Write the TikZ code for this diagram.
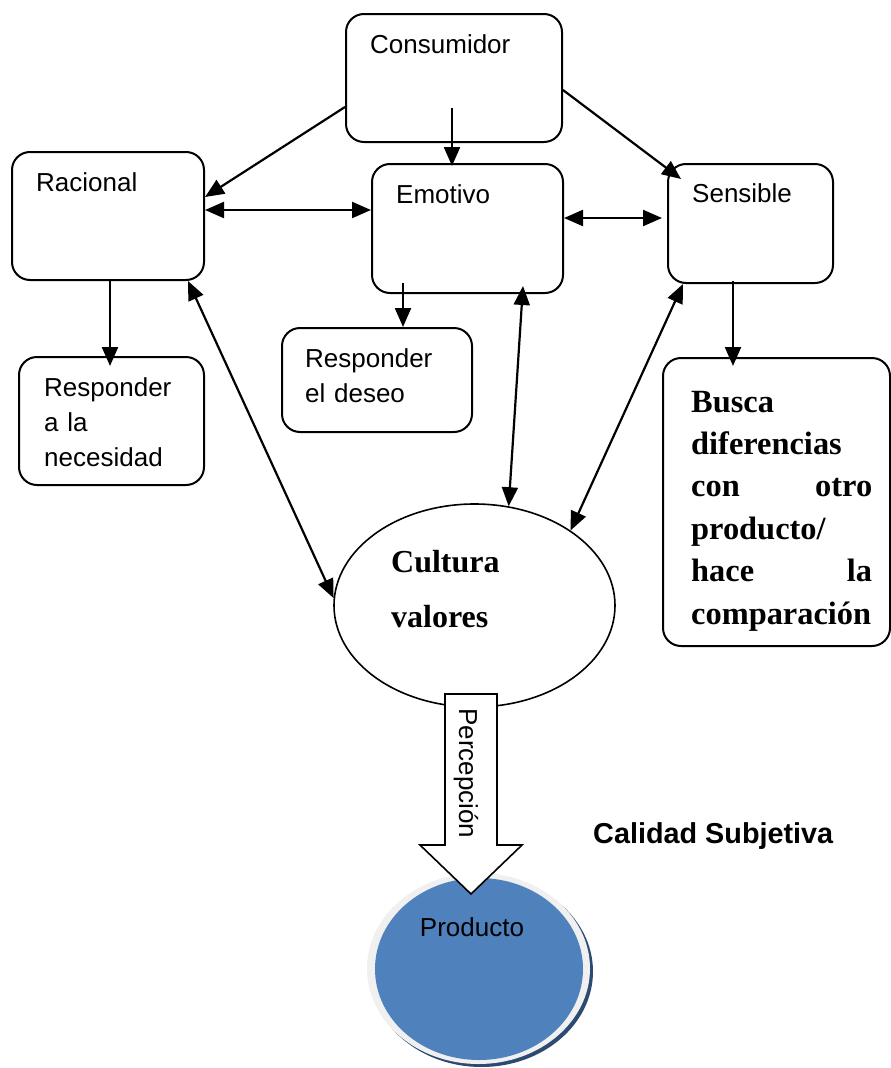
\documentclass[tikz,border=0pt]{standalone}
\usepackage{fontspec}
\setmainfont{Liberation Serif}
\setsansfont{Liberation Sans}
\usetikzlibrary{arrows.meta,shapes.geometric,calc}
\definecolor{azulprod}{HTML}{4F81BD}
\definecolor{sombraprod}{HTML}{2C4A72}
\definecolor{anillo}{HTML}{F0F0F0}
\newcommand\estira{\hskip 0pt plus 1fill\relax}
\tikzset{
  caja/.style={draw, line width=2pt, rounded corners=18pt, inner sep=0pt},
  txt/.style={font=\sffamily\fontsize{26}{35}\selectfont, inner sep=0pt, anchor=base west, align=left},
  negrita/.style={font=\bfseries\fontsize{32.4}{42.4}\selectfont, inner sep=0pt, anchor=base west, align=left},
  flecha/.style={line width=2.2pt, -{Triangle[length=19pt,width=16pt]}},
  doble/.style={line width=2.2pt, {Triangle[length=19pt,width=16pt]}-{Triangle[length=19pt,width=16pt]}},
}
\begin{document}
\begin{tikzpicture}[x=1pt, y=-1pt, line join=round]
\useasboundingbox (0,0) rectangle (891,1068);

% cajas
\node[caja, minimum width=216pt, minimum height=128pt] (consumidor) at (454,78) {};
\node[caja, minimum width=192pt, minimum height=128pt] (racional) at (108,216) {};
\node[caja, minimum width=191pt, minimum height=129pt] (emotivo) at (467.5,228.5) {};
\node[caja, minimum width=165pt, minimum height=119pt] (sensible) at (750.5,223.5) {};
\node[caja, minimum width=185pt, minimum height=128pt] (necesidad) at (111.5,421) {};
\node[caja, minimum width=190pt, minimum height=104pt] (deseo) at (377,380) {};
\node[caja, minimum width=227pt, minimum height=288pt] (busca) at (776.5,502) {};
\node[draw, ellipse, line width=1.6pt, minimum width=281pt, minimum height=203pt] (cultura) at (474.5,605.5) {};

\foreach \n/\dx/\dy/\t in {consumidor/25/40/Consumidor, racional/25/40/Racional,
  emotivo/25/40/Emotivo, sensible/25/39/Sensible,
  necesidad/26/40/{Responder\\a la\\necesidad}, deseo/24/40/{Responder\\el deseo}}
  \node[txt, text width=160pt] (t\n) at ([shift={(\dx,\dy)}]\n.north west) {\t};

\node[negrita, text width=181pt] (tbusca) at ([shift={(29,55)}]busca.north west)
  {Busca\\ diferencias\\ con\estira otro\\ producto/\\ hace\estira la\\ comparación};
\node[negrita, text width=150pt, font=\bfseries\fontsize{32}{55}\selectfont] (tcultura) at ([shift={(-83.5,-33.5)}]cultura.center)
  {Cultura\\ valores};

% flechas
\draw[flecha] (consumidor.west |- 0,107) -- (racional.east |- 0,197);
\draw[flecha] ($(consumidor.south -| 452,0)+(0,-35)$) -- ($(emotivo.north -| 452,0)+(0,3)$);
\draw[flecha] (consumidor.east |- 0,90) -- ($(sensible.north west)+(14,16)$);
\draw[doble] (racional.east |- 0,210) -- (emotivo.west |- 0,210);
\draw[doble] (emotivo.east |- 0,218) -- ($(sensible.west |- 0,218)+(-5,0)$);
\draw[flecha] (racional.south -| 110,0) -- ($(necesidad.north -| 110,0)+(0,10)$);
\draw[flecha] ($(emotivo.south -| 403,0)+(0,-11)$) -- (deseo.north -| 403,0);
\draw[flecha] ($(sensible.south -| 733,0)+(0,-3)$) -- ($(busca.north -| 733,0)+(0,9)$);
\draw[doble] (racional.south -| 188,0) -- (cultura.177);
\draw[doble] ($(emotivo.south -| 523,0)+(0,-8)$) -- (cultura.71);
\draw[doble] (sensible.south -| 683,0) -- (cultura.38);

% producto
\fill[sombraprod] (481.5,971.5) ellipse [x radius=111.5pt, y radius=95.5pt];
\fill[anillo] (478.5,968.5) ellipse [x radius=111.5pt, y radius=95.5pt];
\node[ellipse, fill=azulprod, minimum width=208pt, minimum height=182pt, inner sep=0pt] (producto) at (479,969) {};
\node[txt, anchor=base] (tproducto) at ([shift={(-7,-33)}]producto.center) {Producto};

% percepcion
\draw[line width=1.6pt, fill=white, line join=miter]
  (445,694) -- (497,694) -- (497,845) -- (522,845) -- (471,894) -- (420,845) -- (445,845) -- cycle;
\node[txt, rotate=-90] (percepcion) at (459,708) {Percepción};

\node[txt, font=\sffamily\bfseries\fontsize{28.8}{34}\selectfont] (calidad) at (593,843) {Calidad Subjetiva};
\end{tikzpicture}
\end{document}
